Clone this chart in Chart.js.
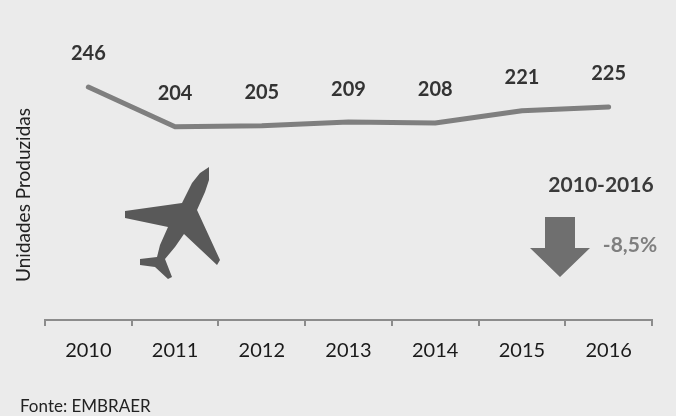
<!DOCTYPE html>
<html lang="pt">
<head>
  <meta charset="UTF-8">
  <title>Unidades Produzidas</title>
  <script src="https://cdn.jsdelivr.net/npm/chart.js"></script>
  <style>
    html, body { margin: 0; padding: 0; background: #ebebeb; overflow: hidden; }
    .chart-container { position: relative; width: 676px; height: 416px; }
  </style>
</head>
<body>

  <div class="chart-container">
    <canvas id="myChart"></canvas>
  </div>

<script>
  const years = ['2010', '2011', '2012', '2013', '2014', '2015', '2016'];
  const units = [246, 204, 205, 209, 208, 221, 225];

  const fontName = 'Lato, "Open Sans", sans-serif';

  // airplane silhouette outline, page pixels
  const planeShape = [
    [209, 167], [209, 180], [205, 192], [197, 210], [220, 260], [217, 265],
    [184, 234], [175, 247], [165, 259], [172, 277], [168, 279], [155, 267],
    [140, 265], [140, 259], [157, 257], [160, 245], [168, 227], [125, 218],
    [125, 211], [182, 203], [192, 183], [200, 173]
  ];
  const arrowShape = [
    [545, 217], [575, 217], [575, 248], [590, 248],
    [560, 277], [530, 248], [545, 248]
  ];

  function fillShape(ctx, shape, color) {
    ctx.beginPath();
    shape.forEach((p, i) => i ? ctx.lineTo(p[0], p[1]) : ctx.moveTo(p[0], p[1]));
    ctx.closePath();
    ctx.fillStyle = color;
    ctx.fill();
  }

  function putText(ctx, text, x, y, font, color, align) {
    ctx.font = font;
    ctx.fillStyle = color;
    ctx.textAlign = align;
    ctx.textBaseline = 'middle';
    ctx.fillText(text, x, y);
  }

  const extras = {
    id: 'extras',
    afterDraw(chart) {
      const ctx = chart.ctx;
      const meta = chart.getDatasetMeta(0);
      ctx.save();

      // value labels above each point
      meta.data.forEach((pt, i) => {
        putText(ctx, String(units[i]), pt.x, pt.y - 33, 'bold 20px ' + fontName, '#333333', 'center');
      });

      fillShape(ctx, planeShape, '#595959');
      fillShape(ctx, arrowShape, '#6f6f6f');

      putText(ctx, '2010-2016', 601, 185, 'bold 21px ' + fontName, '#3a3a3a', 'center');
      putText(ctx, '-8,5%', 630, 245, 'bold 21px ' + fontName, '#7f7f7f', 'center');
      putText(ctx, 'Fonte: EMBRAER', 20, 407, '17px ' + fontName, '#222222', 'left');

      ctx.restore();
    }
  };

  new Chart(document.getElementById('myChart'), {
    type: 'line',
    data: {
      labels: years,
      datasets: [{
        data: units,
        borderColor: '#7f7f7f',
        borderWidth: 5,
        borderCapStyle: 'round',
        borderJoinStyle: 'round',
        tension: 0,
        pointRadius: 0,
        fill: false
      }]
    },
    plugins: [extras],
    options: {
      responsive: true,
      maintainAspectRatio: false,
      animation: false,
      layout: { padding: { left: 12, right: 24, top: 70, bottom: 0 } },
      plugins: {
        legend: { display: false },
        tooltip: { enabled: false },
        title: { display: false }
      },
      scales: {
        x: {
          offset: true,
          afterFit(scale) { scale.height = 96; },
          grid: {
            offset: true,
            drawOnChartArea: false,
            color: '#8c8c8c',
            lineWidth: 2,
            tickLength: 6
          },
          border: { color: '#8c8c8c', width: 2 },
          ticks: {
            padding: 13,
            color: '#1a1a1a',
            font: { family: fontName, size: 20 },
            maxRotation: 0
          }
        },
        y: {
          min: 0,
          max: 264,
          afterFit(scale) { scale.width = 33; },
          grid: { display: false },
          border: { display: false },
          ticks: { display: false },
          title: {
            display: true,
            text: 'Unidades Produzidas',
            color: '#222222',
            font: { family: fontName, size: 19 },
            padding: 0
          }
        }
      }
    }
  });
</script>
</body>
</html>
